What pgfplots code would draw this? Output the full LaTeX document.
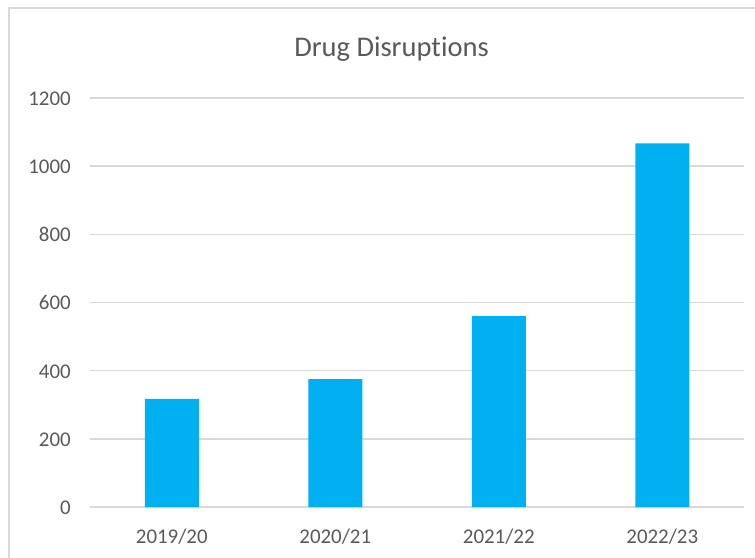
\documentclass[border=0pt]{standalone}
\usepackage{pgfplots}
\pgfplotsset{compat=1.18}
\usepackage{fontspec}
\setmainfont{Carlito}[Ligatures={NoCommon}]
\definecolor{barblue}{HTML}{00B0F0}
\definecolor{gridgray}{HTML}{D9D9D9}
\definecolor{textgray}{HTML}{595959}
\begin{document}
\begin{tikzpicture}
\useasboundingbox (0,0) rectangle (755bp,558bp);
\draw[gridgray, line width=1.5bp] (9bp,0) -- (9bp,550bp) -- (755bp,550bp);
\node[anchor=base, inner sep=0pt, text=textgray, font=\fontsize{28.6}{32}\selectfont] at (391.5bp,501.3bp) {Drug Disruptions};
\begin{axis}[
  at={(90bp,51bp)}, anchor=south west,
  scale only axis, width=654bp, height=409bp,
  ybar, bar width=54bp,
  xmin=-0.5, xmax=3.5, ymin=0, ymax=1200,
  xtick={0,1,2,3},
  xticklabels={2019/20,2020/21,2021/22,2022/23},
  ytick={0,200,...,1200},
  axis x line*=bottom, axis y line*=left,
  x axis line style={gridgray, line width=1.5bp, -},
  y axis line style={draw=none},
  ymajorgrids, grid style={gridgray, line width=1.5bp},
  major tick length=0pt,
  /pgf/number format/assume math mode=true,
  /pgf/number format/1000 sep={},
  ticklabel style={text=textgray, font=\fontsize{21}{25}\selectfont, inner sep=0pt},
  xticklabel style={anchor=base, yshift=-36bp},
  yticklabel style={anchor=base east, xshift=-19bp, yshift=-7.4bp},
  clip=false,
]
\addplot[fill=barblue, draw=none] coordinates {(0,317) (1,375) (2,560) (3,1067)};
\end{axis}
\end{tikzpicture}
\end{document}
